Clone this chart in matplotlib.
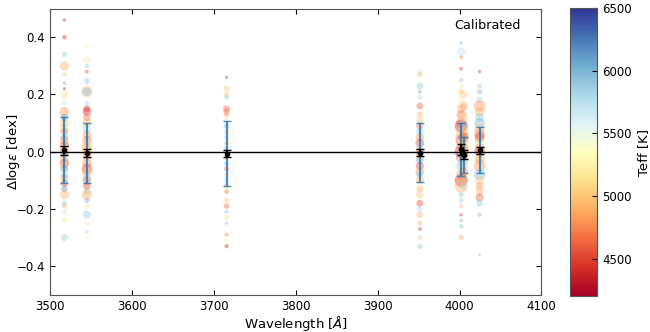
import numpy as np
import matplotlib
matplotlib.use('Agg')
import matplotlib.pyplot as plt

# line wavelengths
waves = [3517.5, 3545.0, 3715.5, 3951.5, 4002.0, 4005.0, 4024.5]

# abundance differences, Teff and marker sizes read per line
d_3518 = [0.46, 0.40, 0.34, 0.30, 0.27, 0.24, 0.22, 0.20, 0.19, 0.17, 0.14, 0.12, 0.10, 0.08, 0.07,
          0.05, 0.04, 0.02, 0.01, 0.0, -0.01, -0.02, -0.04, -0.05, -0.06, -0.08, -0.09, -0.11, -0.13,
          -0.15, -0.18, -0.19, -0.21, -0.24, -0.30]
t_3518 = [4500, 4450, 5900, 4900, 5000, 6000, 4400, 5100, 5200, 5800, 4800, 6100, 4900, 5000, 4700,
          6000, 4800, 4600, 5100, 4700, 5900, 4900, 4500, 5000, 6100, 5800, 4800, 4500, 6200,
          4900, 5900, 4900, 5000, 5200, 5900]
s_3518 = [8, 12, 15, 45, 10, 8, 6, 20, 15, 10, 50, 30, 40, 35, 30,
          30, 40, 45, 35, 40, 30, 40, 45, 35, 30, 35, 30, 30, 20,
          45, 15, 15, 8, 20, 25]

d_3545 = [0.37, 0.32, 0.30, 0.28, 0.25, 0.24, 0.21, 0.21, 0.17, 0.15, 0.14, 0.12, 0.10, 0.08, 0.06,
          0.04, 0.02, 0.01, -0.01, -0.02, -0.04, -0.06, -0.07, -0.09, -0.10, -0.12, -0.14, -0.15, -0.17,
          -0.19, -0.22, -0.25, -0.28, -0.30]
t_3545 = [5200, 5200, 5900, 4500, 5900, 5800, 5000, 6000, 5800, 4500, 4400, 4700, 4900, 5800, 4800,
          4700, 5000, 4900, 4600, 5100, 4800, 4500, 4900, 5900, 4700, 4500, 5900, 4900, 6000,
          5100, 5900, 5200, 5800, 5200]
s_3545 = [8, 25, 10, 8, 15, 10, 70, 40, 12, 25, 40, 30, 45, 35, 40,
          45, 45, 60, 40, 45, 50, 60, 50, 35, 40, 30, 25, 55, 15,
          15, 35, 10, 8, 6]

d_3716 = [0.26, 0.22, 0.20, 0.19, 0.15, 0.14, 0.13, 0.11, 0.09, 0.07, 0.05, 0.03, 0.01, 0.0, -0.02,
          -0.04, -0.06, -0.08, -0.10, -0.12, -0.13, -0.14, -0.17, -0.19, -0.21, -0.23, -0.25, -0.29,
          -0.31, -0.33]
t_3716 = [4400, 5000, 5000, 5900, 4600, 4700, 4800, 5100, 6000, 4900, 5800, 4800, 6000, 4900, 4600,
          5900, 4700, 5000, 5800, 4800, 5300, 4700, 5000, 4600, 5900, 5100, 5900, 4800,
          5200, 4400]
s_3716 = [6, 20, 15, 12, 25, 20, 15, 12, 15, 12, 15, 12, 15, 20, 12,
          15, 15, 12, 15, 15, 20, 12, 15, 15, 10, 15, 8, 10,
          12, 10]

d_3951 = [0.28, 0.27, 0.23, 0.21, 0.19, 0.16, 0.13, 0.11, 0.09, 0.07, 0.05, 0.03, 0.02, 0.0, -0.02,
          -0.03, -0.05, -0.07, -0.08, -0.10, -0.13, -0.15, -0.18, -0.20, -0.22, -0.25, -0.27, -0.30,
          -0.33]
t_3951 = [5600, 4900, 5900, 6000, 5800, 4600, 4900, 5000, 4700, 5900, 4800, 4500, 5800, 4600, 4900,
          6000, 4500, 4800, 5900, 4900, 4900, 5000, 4500, 5800, 4900, 4900, 4400, 5000,
          5900]
s_3951 = [20, 15, 25, 10, 15, 25, 20, 25, 30, 30, 35, 40, 30, 40, 35,
          30, 35, 40, 30, 35, 25, 30, 25, 20, 20, 15, 8, 12,
          15]

d_4002 = [0.38, 0.35, 0.33, 0.29, 0.25, 0.23, 0.21, 0.18, 0.15, 0.13, 0.10, 0.09, 0.06, 0.04, 0.02,
          0.0, -0.02, -0.05, -0.08, -0.10, -0.12, -0.15, -0.17, -0.19, -0.22, -0.24, -0.26, -0.30]
t_4002 = [5900, 5700, 4800, 4500, 5900, 5100, 5000, 5200, 4900, 4700, 4800, 4400, 4900, 4600, 5000,
          4400, 4700, 5900, 4800, 4400, 4900, 5900, 5900, 4900, 4400, 6000, 5900, 4900]
s_4002 = [8, 40, 8, 8, 12, 8, 20, 25, 40, 45, 60, 90, 60, 70, 60,
          90, 60, 50, 50, 90, 90, 15, 12, 8, 6, 6, 12, 15]

d_4005 = [0.20, 0.16, 0.12, 0.09, 0.07, 0.05, 0.03, 0.01, -0.01, -0.03, -0.05, -0.07, -0.09, -0.12]
t_4005 = [5000, 4800, 5000, 5900, 4900, 4500, 5100, 4800, 4600, 5900, 5000, 4700, 4900, 5800]
s_4005 = [30, 35, 40, 45, 50, 55, 60, 55, 50, 45, 45, 40, 35, 25]

d_4025 = [0.28, 0.23, 0.21, 0.18, 0.16, 0.14, 0.12, 0.10, 0.08, 0.06, 0.05, 0.03, 0.01, 0.0, -0.02,
          -0.03, -0.05, -0.08, -0.10, -0.12, -0.14, -0.16, -0.18, -0.22, -0.36]
t_4025 = [4400, 5900, 6000, 5800, 4800, 4900, 5900, 6000, 4900, 4700, 4500, 5100, 4800, 4600, 5000,
          4900, 4800, 6000, 5000, 4800, 4900, 4600, 5900, 6000, 5900]
s_4025 = [6, 12, 15, 25, 70, 50, 40, 60, 50, 60, 50, 45, 60, 55, 50,
          45, 70, 70, 40, 35, 30, 35, 25, 10, 6]

# per-line mean and scatter (blue) and error of the mean (black)
line_mean = [0.005, -0.005, -0.007, -0.003, 0.008, -0.010, 0.005]
line_std = [0.115, 0.105, 0.113, 0.103, 0.092, 0.063, 0.080]
line_err = [0.015, 0.015, 0.012, 0.012, 0.018, 0.015, 0.012]

deltas = [d_3518, d_3545, d_3716, d_3951, d_4002, d_4005, d_4025]
teffs = [t_3518, t_3545, t_3716, t_3951, t_4002, t_4005, t_4025]
sizes = [s_3518, s_3545, s_3716, s_3951, s_4002, s_4005, s_4025]

fig = plt.figure(figsize=(6.5, 3.32), dpi=100)
ax = fig.add_axes([0.077, 0.112, 0.756, 0.862])
cax = fig.add_axes([0.877, 0.108, 0.042, 0.867])

for w, d, t, s in zip(waves, deltas, teffs, sizes):
    sc = ax.scatter(np.full(len(d), w), d, c=t, s=s, cmap='RdYlBu', vmin=4200, vmax=6500,
                    alpha=0.4, edgecolors='none', zorder=2)

ax.errorbar(waves, line_mean, yerr=line_std, fmt='none', ecolor='tab:blue', elinewidth=1.5,
            capsize=3, alpha=0.8, zorder=3)
ax.errorbar(waves, line_mean, yerr=line_err, fmt='ko', ms=3, elinewidth=1.5, capsize=3, zorder=4)
ax.axhline(0, color='k', lw=1, zorder=3)

ax.set_xlim(3500, 4100)
ax.set_ylim(-0.5, 0.5)
ax.set_xticks(np.arange(3500, 4101, 100))
ax.set_yticks([-0.4, -0.2, 0.0, 0.2, 0.4])
ax.tick_params(direction='in', top=True, right=True, labelsize=8.5)
for sp in ax.spines.values():
    sp.set_color('#555555')
ax.set_xlabel(r'Wavelength [$\AA$]', fontsize=9.5, labelpad=1)
ax.set_ylabel(r'$\Delta\mathrm{log}\varepsilon$ [dex]', fontsize=9.5)
ax.yaxis.set_label_coords(-0.058, 0.5)
ax.text(0.89, 0.94, 'Calibrated', transform=ax.transAxes, ha='center', va='center', fontsize=9.2)

cb = fig.colorbar(sc, cax=cax)
cb.solids.set_alpha(1)
cb.set_ticks([4500, 5000, 5500, 6000, 6500])
cb.ax.tick_params(labelsize=8.5, direction='in')
cb.set_label('Teff [K]', fontsize=9.5)
cb.ax.yaxis.set_label_coords(2.45, 0.5)
cb.outline.set_edgecolor('#555555')

fig.savefig('out.png', dpi=100)
